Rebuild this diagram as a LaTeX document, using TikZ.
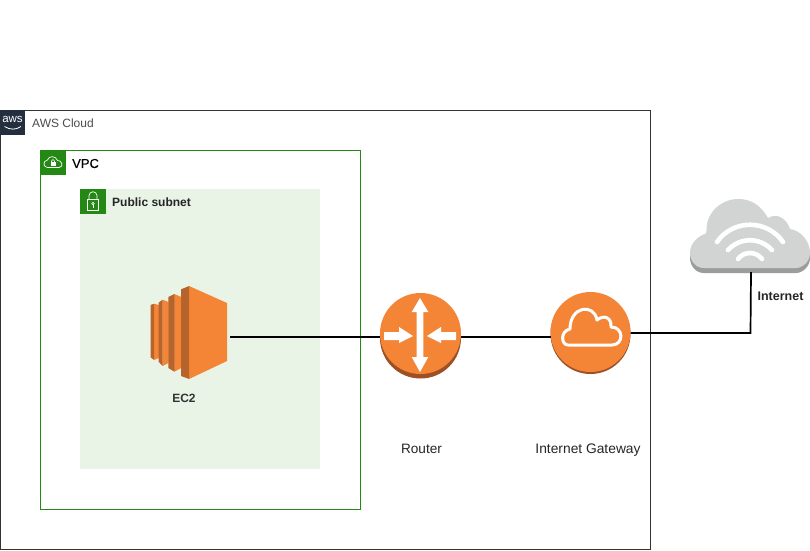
\documentclass[tikz,border=0pt]{standalone}
\usepackage{fontspec}
\setmainfont{Liberation Sans}
\definecolor{awsdark}{HTML}{232F3E}
\definecolor{awsgreen}{HTML}{248814}
\definecolor{subnetbg}{HTML}{E9F3E6}
\definecolor{orangeL}{HTML}{F58536}
\definecolor{orangeD}{HTML}{9D5025}
\definecolor{orangeM}{HTML}{B6642B}
\definecolor{cloudL}{HTML}{D2D3D3}
\definecolor{cloudD}{HTML}{9C9C9C}
\tikzset{
  x=1pt,y=-1pt,
  lbl/.style={inner sep=0pt,font=\fontsize{12}{14}\selectfont,text=black!85},
  link/.style={draw=black,line width=1.7pt,line join=miter},
  disc/.style={circle,fill=orangeL,minimum size=80pt,inner sep=0pt,outer sep=0pt},
  wave/.style={white,line width=4.6pt,line cap=round},
}
\begin{document}
\begin{tikzpicture}
\useasboundingbox (0,0) rectangle (810,550);
\fill[white] (0,0) rectangle (810,550);
% containers
\draw[draw=black!80,line width=0.8pt] (0.5,110) rectangle (650,549);
\fill[awsdark] (0,110) rectangle (25,134.5);
\node[inner sep=0pt,text=white,font=\fontsize{11.5}{11.5}\selectfont] (awslogo) at (12.5,119.5) {aws};
\draw[white,line width=0.8pt] (4.5,126.5) .. controls (10,130) and (16,130) .. (21,126.5);
\node[lbl,anchor=west,text=black!70] (cloudlbl) at (32,123) {AWS Cloud};
\draw[draw=awsgreen,line width=0.8pt] (40.5,150) rectangle (360,509);
\fill[awsgreen] (40,149.5) rectangle (66,175);
\node[lbl,anchor=west,font=\fontsize{13}{15}\selectfont\addfontfeature{FakeBold=0.3},text=black] (vpclbl) at (72,163.5) {VPC};
\draw[white,line width=0.7pt,line join=round]
  (47.5,167.5) .. controls (43,167) and (42.5,161) .. (47.5,160)
  .. controls (48.5,155.5) and (56,155.5) .. (57.5,160.5)
  .. controls (61,159.5) and (65,167) .. (59,167.5) -- cycle;
\fill[white] (50.5,162) rectangle (55.5,165.5);
\draw[white,line width=0.6pt] (51.5,162) -- (51.5,161) arc[start angle=180,end angle=360,radius=1.5] -- (54.5,162);
\fill[subnetbg] (80,189) rectangle (320,469);
\fill[awsgreen] (80,189) rectangle (106,214);
\draw[white,line width=0.7pt] (87.3,199.3) rectangle (98.7,210);
\draw[white,line width=0.7pt] (89,199.3) -- (89,195.7) arc[start angle=180,end angle=360,radius=4] -- (97,199.3);
\draw[white,line width=0.6pt] (93,203.7) circle (1.3);
\draw[white,line width=0.6pt] (93,205) -- (93,207.5);
\node[lbl,anchor=west,font=\bfseries\fontsize{12}{14}\selectfont] (sublbl) at (112,202.5) {Public subnet};
% EC2
\coordinate (ec2) at (230,337);
\fill[orangeL] (154,303.7) -- (158.8,305) -- (158.8,358) -- (154,360) -- cycle;
\fill[orangeM] (150.5,305) -- (154.2,303.7) -- (154.2,360) -- (150.5,357.3) -- cycle;
\fill[orangeL] (162.5,299.7) -- (168.6,302) -- (168.6,363) -- (162.5,366) -- cycle;
\fill[orangeM] (158.5,302.7) -- (162.7,299.7) -- (162.7,366) -- (158.5,361.7) -- cycle;
\fill[orangeL] (174.3,294) -- (181.3,297) -- (181.3,368) -- (174.3,371.7) -- cycle;
\fill[orangeM] (168.3,297) -- (174.5,294) -- (174.5,371.7) -- (168.3,368) -- cycle;
\fill[orangeL] (189,286) -- (227,303) -- (227,361) -- (189,379) -- cycle;
\fill[orangeM] (181,289.3) -- (189.2,286) -- (189.2,379) -- (181,376) -- cycle;
\node[lbl,font=\bfseries\fontsize{12}{14}\selectfont,text=black!80] (ec2lbl) at (184,398) {EC2};
% Router
\fill[orangeD] (420.5,338) circle (40.5);
\node[disc,minimum size=81pt] (router) at (420.5,333.5) {};
\fill[white] (420,298) -- (428.3,312) -- (423.3,312) -- (423.3,357) -- (428.3,357) -- (420,372) -- (411.7,357) -- (416.7,357) -- (416.7,312) -- (411.7,312) -- cycle;
\fill[white] (384,332) -- (399,332) -- (399,327) -- (413,336) -- (399,343) -- (399,340) -- (384,340) -- cycle;
\fill[white] (456,332) -- (441,332) -- (441,327) -- (427,336) -- (441,343) -- (441,340) -- (456,340) -- cycle;
\node[lbl,anchor=base,font=\fontsize{13.6}{15}\selectfont] (routerlbl) at (421.5,453.5) {Router};
% Internet gateway
\fill[orangeD] (590.5,334) circle (40);
\node[disc] (igw) at (590.5,332) {};
\draw[white,line width=3pt,line join=round]
  (568,345) .. controls (561,345) and (560,331) .. (570,329)
  .. controls (570,306) and (594,303) .. (597,320)
  .. controls (604,314) and (612,318) .. (611,327)
  .. controls (624,327) and (624,345) .. (612,345) -- cycle;
\node[lbl,anchor=base,font=\fontsize{13.8}{15}\selectfont] (igwlbl) at (588,453.5) {Internet Gateway};
% Internet cloud
\coordinate (inet) at (751,272);
\def\cloudpath{(704,268) .. controls (695,268) and (690,260) .. (690,253)
  .. controls (690,243) and (698,236) .. (707,233)
  .. controls (704,215) and (720,199) .. (738,199)
  .. controls (750,199) and (760,204) .. (768,218)
  .. controls (776,213) and (786,217) .. (790,229)
  .. controls (802,231) and (810,242) .. (810,253)
  .. controls (810,262) and (802,268) .. (796,268) -- cycle}
\begin{scope}[yshift=-5pt]
\fill[cloudD] \cloudpath;
\end{scope}
\fill[cloudL] \cloudpath;
\draw[wave] (717,242) .. controls (733,219) and (767,219) .. (783,242);
\draw[wave] (728,250) .. controls (740,237) and (760,237) .. (772,250);
\draw[wave] (738,259) .. controls (744,251) and (756,251) .. (762,259);
\node[lbl,font=\bfseries\fontsize{12.5}{14}\selectfont,text=black!85] (inetlbl) at (780.5,296.5) {Internet};
% connectors
\draw[link] (ec2) -- (router.west |- ec2);
\draw[link] (router.east |- ec2) -- (igw.west |- ec2);
\draw[link] (igw.east) ++(0,1) -- ++(120,0) -- (inet);
\end{tikzpicture}
\end{document}
